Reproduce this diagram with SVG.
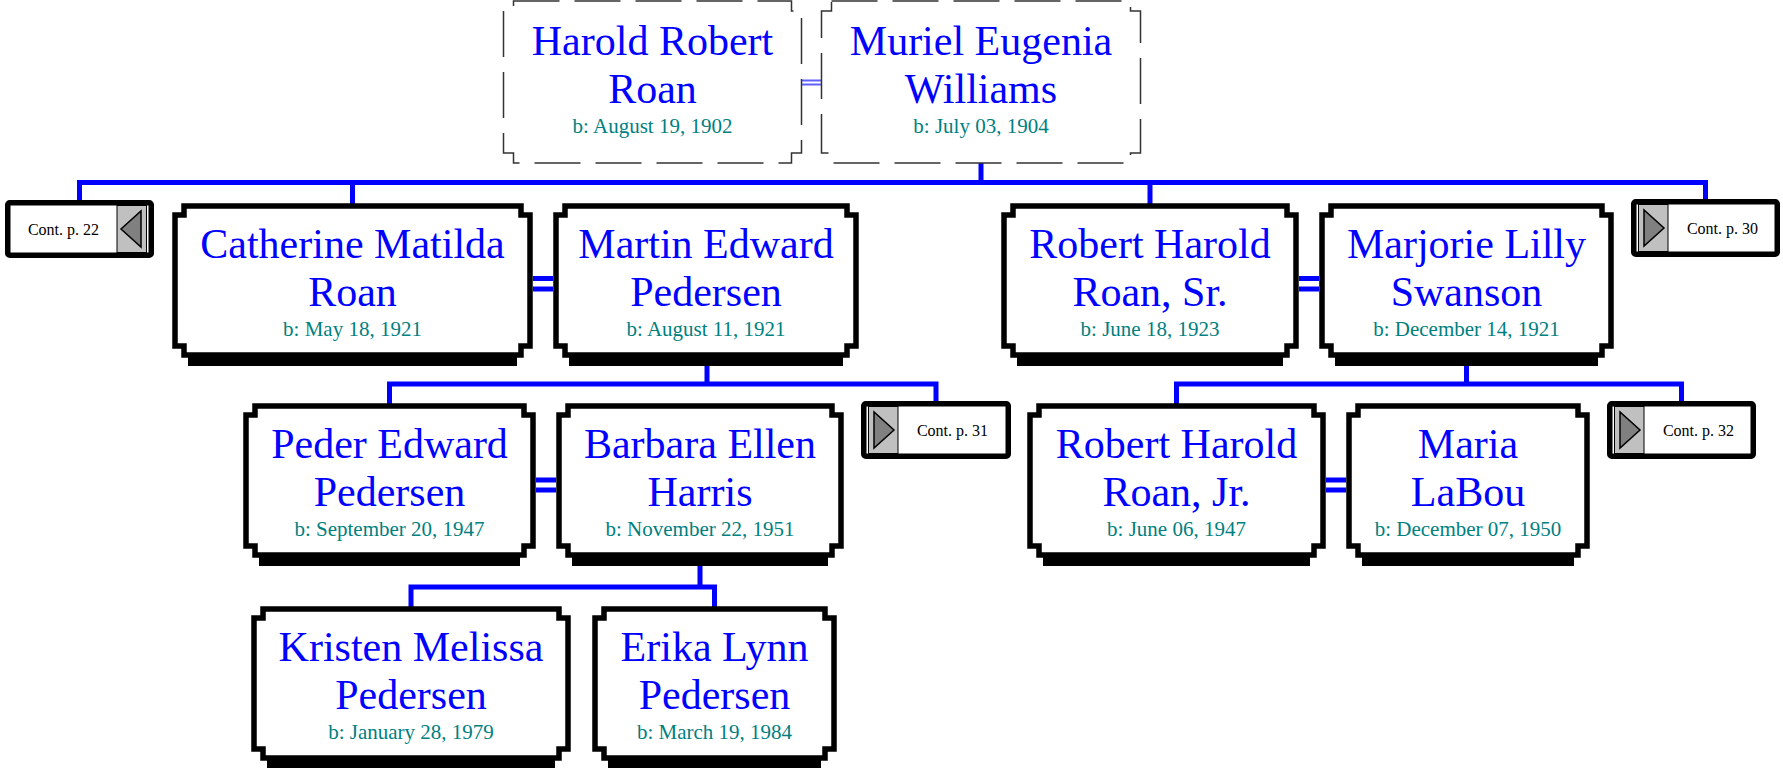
<svg xmlns="http://www.w3.org/2000/svg" width="1783" height="768" viewBox="0 0 1783 768">
<style>
.frame{fill:#fff;stroke:#000;stroke-width:5.5;stroke-linejoin:miter}
.dash{fill:#fff;stroke:#333;stroke-width:1.5;stroke-dasharray:46 15}
.shadow{fill:#000}
.name{font-family:"Liberation Serif","Times New Roman",serif;font-size:42px;fill:#0000ff;text-anchor:middle}
.date{font-family:"Liberation Serif","Times New Roman",serif;font-size:21px;fill:#008080;text-anchor:middle}
.cont{font-family:"Liberation Serif","Times New Roman",serif;font-size:16px;fill:#000;text-anchor:middle}
.cbox{fill:#fff;stroke:#000;stroke-width:5.5}
.gray{fill:#c0c0c0;stroke:#000;stroke-width:1}
.tri{fill:#808080;stroke:#000;stroke-width:1.5;stroke-linejoin:miter}
.link{fill:none;stroke:#0000ff;stroke-width:5}
.wed{fill:none;stroke:#0000ff;stroke-width:5}
.wedthin{fill:none;stroke:#6060ff;stroke-width:2}
</style>
<rect width="1783" height="768" fill="#fff"/>
<g id="connectors">
<path class="link" d="M79.5,201 V182.5 H1705.5 V201"/>
<path class="link" d="M981,163 V182.5"/>
<path class="link" d="M352.5,182.5 V205"/>
<path class="link" d="M1150,182.5 V205"/>
<path class="link" d="M389.5,405 V384 H936 V403"/>
<path class="link" d="M707,364 V384"/>
<path class="link" d="M1176.5,405 V384 H1681.5 V403"/>
<path class="link" d="M1466.5,364 V384"/>
<path class="link" d="M411,608 V587 H714.5 V608"/>
<path class="link" d="M700,564 V587"/>
<path class="wedthin" d="M802,80.5 H821 M802,84.5 H821"/>
<path class="wed" d="M533,278.5 H553 M533,289 H553"/>
<path class="wed" d="M1299,278.5 H1319 M1299,289 H1319"/>
<path class="wed" d="M536,480 H556 M536,490 H556"/>
<path class="wed" d="M1326,480 H1346 M1326,490 H1346"/>
</g>
<g id="harold">
<path class="dash" d="M513.5,1 H791.5 V11 H801.5 V153 H791.5 V163 H513.5 V153 H503.5 V11 H513.5 Z"/>
<text class="name" x="652.5" y="55">Harold Robert</text>
<text class="name" x="652.5" y="103">Roan</text>
<text class="date" x="652.5" y="133">b: August 19, 1902</text>
</g>
<g id="muriel">
<path class="dash" d="M831.5,1 H1130.5 V11 H1140.5 V153 H1130.5 V163 H831.5 V153 H821.5 V11 H831.5 Z"/>
<text class="name" x="981" y="55">Muriel Eugenia</text>
<text class="name" x="981" y="103">Williams</text>
<text class="date" x="981" y="133">b: July 03, 1904</text>
</g>
<g id="cont22">
<rect class="cbox" x="7.75" y="202.75" width="143.5" height="52.5" rx="2"/>
<rect class="gray" x="117" y="205.5" width="29.5" height="47"/>
<polygon class="tri" points="141,211 141,247 121,229"/>
<text class="cont" x="63.5" y="235">Cont. p. 22</text>
</g>
<g id="catherine">
<rect class="shadow" x="188" y="353" width="329" height="13"/>
<path class="frame" d="M184,206 H521 V215 H530 V346 H521 V355 H184 V346 H175 V215 H184 Z"/>
<text class="name" x="352.5" y="258">Catherine Matilda</text>
<text class="name" x="352.5" y="306">Roan</text>
<text class="date" x="352.5" y="336">b: May 18, 1921</text>
</g>
<g id="martin">
<rect class="shadow" x="569" y="353" width="274" height="13"/>
<path class="frame" d="M565,206 H847 V215 H856 V346 H847 V355 H565 V346 H556 V215 H565 Z"/>
<text class="name" x="706" y="258">Martin Edward</text>
<text class="name" x="706" y="306">Pedersen</text>
<text class="date" x="706" y="336">b: August 11, 1921</text>
</g>
<g id="robertsr">
<rect class="shadow" x="1017" y="353" width="266" height="13"/>
<path class="frame" d="M1013,206 H1287 V215 H1296 V346 H1287 V355 H1013 V346 H1004 V215 H1013 Z"/>
<text class="name" x="1150" y="258">Robert Harold</text>
<text class="name" x="1150" y="306">Roan, Sr.</text>
<text class="date" x="1150" y="336">b: June 18, 1923</text>
</g>
<g id="marjorie">
<rect class="shadow" x="1335" y="353" width="263" height="13"/>
<path class="frame" d="M1331,206 H1602 V215 H1611 V346 H1602 V355 H1331 V346 H1322 V215 H1331 Z"/>
<text class="name" x="1466.5" y="258">Marjorie Lilly</text>
<text class="name" x="1466.5" y="306">Swanson</text>
<text class="date" x="1466.5" y="336">b: December 14, 1921</text>
</g>
<g id="cont30">
<rect class="cbox" x="1633.75" y="201.75" width="143.5" height="52.5" rx="2"/>
<rect class="gray" x="1638.5" y="204.5" width="29.5" height="47"/>
<polygon class="tri" points="1644,210 1644,246 1664,228"/>
<text class="cont" x="1722.5" y="234">Cont. p. 30</text>
</g>
<g id="peder">
<rect class="shadow" x="259" y="553" width="261" height="13"/>
<path class="frame" d="M255,406 H524 V415 H533 V546 H524 V555 H255 V546 H246 V415 H255 Z"/>
<text class="name" x="389.5" y="458">Peder Edward</text>
<text class="name" x="389.5" y="506">Pedersen</text>
<text class="date" x="389.5" y="536">b: September 20, 1947</text>
</g>
<g id="barbara">
<rect class="shadow" x="572" y="553" width="256" height="13"/>
<path class="frame" d="M568,406 H832 V415 H841 V546 H832 V555 H568 V546 H559 V415 H568 Z"/>
<text class="name" x="700" y="458">Barbara Ellen</text>
<text class="name" x="700" y="506">Harris</text>
<text class="date" x="700" y="536">b: November 22, 1951</text>
</g>
<g id="cont31">
<rect class="cbox" x="863.75" y="403.75" width="144.5" height="52.5" rx="2"/>
<rect class="gray" x="868.5" y="406.5" width="29.5" height="47"/>
<polygon class="tri" points="874,412 874,448 894,430"/>
<text class="cont" x="952.5" y="436">Cont. p. 31</text>
</g>
<g id="robertjr">
<rect class="shadow" x="1043" y="553" width="267" height="13"/>
<path class="frame" d="M1039,406 H1314 V415 H1323 V546 H1314 V555 H1039 V546 H1030 V415 H1039 Z"/>
<text class="name" x="1176.5" y="458">Robert Harold</text>
<text class="name" x="1176.5" y="506">Roan, Jr.</text>
<text class="date" x="1176.5" y="536">b: June 06, 1947</text>
</g>
<g id="maria">
<rect class="shadow" x="1362" y="553" width="212" height="13"/>
<path class="frame" d="M1358,406 H1578 V415 H1587 V546 H1578 V555 H1358 V546 H1349 V415 H1358 Z"/>
<text class="name" x="1468" y="458">Maria</text>
<text class="name" x="1468" y="506">LaBou</text>
<text class="date" x="1468" y="536">b: December 07, 1950</text>
</g>
<g id="cont32">
<rect class="cbox" x="1609.75" y="403.75" width="143.5" height="52.5" rx="2"/>
<rect class="gray" x="1614.5" y="406.5" width="29.5" height="47"/>
<polygon class="tri" points="1620,412 1620,448 1640,430"/>
<text class="cont" x="1698.5" y="436">Cont. p. 32</text>
</g>
<g id="kristen">
<rect class="shadow" x="267" y="756" width="288" height="13"/>
<path class="frame" d="M263,609 H559 V618 H568 V749 H559 V758 H263 V749 H254 V618 H263 Z"/>
<text class="name" x="411" y="661">Kristen Melissa</text>
<text class="name" x="411" y="709">Pedersen</text>
<text class="date" x="411" y="739">b: January 28, 1979</text>
</g>
<g id="erika">
<rect class="shadow" x="608" y="756" width="213" height="13"/>
<path class="frame" d="M604,609 H825 V618 H834 V749 H825 V758 H604 V749 H595 V618 H604 Z"/>
<text class="name" x="714.5" y="661">Erika Lynn</text>
<text class="name" x="714.5" y="709">Pedersen</text>
<text class="date" x="714.5" y="739">b: March 19, 1984</text>
</g>
</svg>
